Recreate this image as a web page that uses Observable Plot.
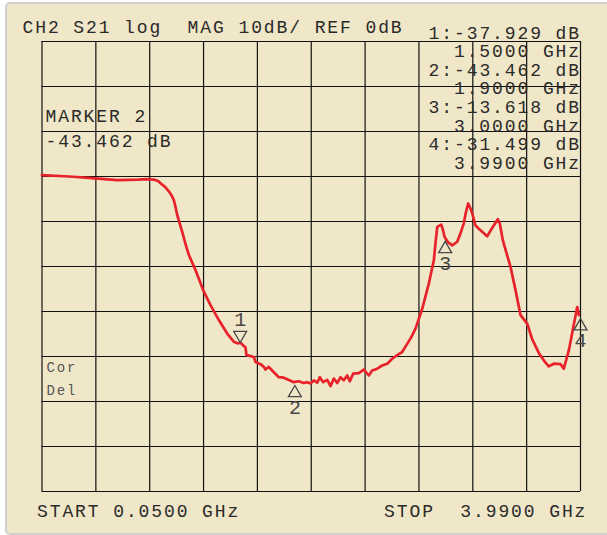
<!DOCTYPE html>
<html><head><meta charset="utf-8">
<script src="https://cdn.jsdelivr.net/npm/d3@7"></script>
<script src="https://cdn.jsdelivr.net/npm/@observablehq/plot@0.6"></script>
<style>
html,body{margin:0;padding:0;background:#fff;width:607px;height:535px;overflow:hidden}
#panel{position:absolute;left:5px;top:2px;width:612px;height:529px;background:#F0E7C8;border:2px solid #cfcfcf;border-radius:5px;box-sizing:content-box}
#chart{position:absolute;left:0;top:0}
#chart svg text{letter-spacing:1.9px}
</style></head><body><div id="panel"></div><div id="chart"></div>
<script>
// ---- data ----
const startGHz = 0.05, stopGHz = 3.99;
const dbPerDiv = 10, topDb = 30, bottomDb = -70;
const headerText = "CH2 S21 log  MAG 10dB/ REF 0dB";
const statusText = ["Cor", "Del"];
const activeMarker = 2;

const freqGHz = [0.05,0.25,0.44,0.60,0.75,0.82,0.868,0.90,0.917,0.95,0.978,1.000,1.014,1.025,1.039,1.076,1.10,1.124,1.173,1.234,1.283,1.344,1.405,1.453,1.483,1.50,1.525,1.539,1.546,1.563,1.600,1.612,1.649,1.673,1.685,1.709,1.746,1.783,1.819,1.856,1.892,1.929,1.965,1.990,2.015,2.039,2.064,2.083,2.107,2.137,2.161,2.185,2.210,2.234,2.258,2.283,2.302,2.327,2.368,2.404,2.441,2.466,2.503,2.539,2.576,2.612,2.649,2.685,2.722,2.750,2.783,2.832,2.880,2.900,2.917,2.930,2.942,2.971,2.985,2.995,3.020,3.051,3.088,3.110,3.136,3.152,3.168,3.185,3.198,3.220,3.246,3.307,3.340,3.385,3.400,3.422,3.478,3.515,3.551,3.600,3.637,3.685,3.730,3.758,3.795,3.844,3.868,3.905,3.966,3.978];
const s21Db = [0.3,0.0,-0.4,-0.8,-0.7,-0.6,-0.7,-1.0,-1.5,-2.3,-3.3,-4.3,-5.2,-6.5,-8.5,-12.3,-15.0,-17.4,-20.8,-25.6,-28.6,-31.9,-34.9,-36.7,-37.1,-36.9,-37.6,-38.0,-39.7,-39.8,-40.1,-41.2,-41.7,-42.3,-42.9,-42.3,-43.5,-44.6,-44.7,-45.2,-45.7,-45.5,-45.9,-45.7,-46.0,-45.3,-45.8,-44.6,-45.7,-45.2,-46.6,-44.9,-45.9,-44.6,-45.3,-44.2,-45.5,-43.8,-43.7,-42.9,-44.2,-43.1,-42.7,-42.0,-41.6,-40.5,-39.7,-39.0,-37.2,-35.8,-33.8,-29.4,-23.8,-21.0,-18.6,-14.5,-11.2,-10.7,-12.0,-13.4,-14.6,-15.3,-14.5,-12.8,-10.4,-7.9,-6.0,-7.1,-8.2,-10.8,-11.6,-13.3,-11.6,-9.5,-10.5,-14.2,-20.1,-25.3,-30.8,-32.7,-36.2,-39.2,-41.2,-42.2,-41.6,-41.7,-42.7,-38.6,-29.0,-30.8];

const markerId = [1, 2, 3, 4];
const markerGHz = [1.5, 1.9, 3.0, 3.99];
const markerDb = [-37.929, -43.462, -13.618, -31.499];

// ---- derived ----
const trace = freqGHz.map((f, i) => ({f, db: s21Db[i]}));
const traceAt = d3.scaleLinear().domain(freqGHz).range(s21Db).clamp(true);
const markers = markerId.map((id, i) => ({id, f: markerGHz[i], level: traceAt(markerGHz[i])}));
const upMarkers = markers.filter(d => d.id !== 1);
const downMarkers = markers.filter(d => d.id === 1);
const xDiv = d3.range(11).map(i => startGHz + i * (stopGHz - startGHz) / 10);
const yDiv = d3.range(bottomDb, topDb + 1, dbPerDiv);
const legendText = markerId.flatMap((id, i) => [`${id}:${markerDb[i].toFixed(3)} dB`, `${markerGHz[i].toFixed(4)} GHz`]).join("\n");
const activeIdx = markerId.indexOf(activeMarker);
const activeText = `MARKER ${activeMarker}\n${markerDb[activeIdx].toFixed(3)} dB`;
const startText = `START ${startGHz.toFixed(4)} GHz`;
const stopText = `STOP  ${stopGHz.toFixed(4)} GHz`;

const font = "'Liberation Mono', 'DejaVu Sans Mono', monospace";
const ink = "#2a2a2a";
const mk = "#474747";

const chart = Plot.plot({
  width: 607, height: 535,
  marginLeft: 41.5, marginRight: 27, marginTop: 41, marginBottom: 44,
  style: {background: "transparent", fontFamily: font, overflow: "visible"},
  x: {type: "linear", domain: [startGHz, stopGHz], axis: null},
  y: {type: "linear", domain: [bottomDb, topDb], axis: null},
  marks: [
    Plot.ruleX(xDiv, {stroke: "#111", strokeWidth: 1.2}),
    Plot.ruleY(yDiv, {stroke: "#111", strokeWidth: 1.2}),
    Plot.line(trace, {x: "f", y: "db", stroke: "#E8222B", strokeWidth: 2.7, strokeLinejoin: "round", curve: "linear"}),
    Plot.text([headerText], {text: d => d, frameAnchor: "top-left", textAnchor: "start", lineAnchor: "bottom", dx: -19.5, dy: -8.5, fontSize: 18, fill: ink, fontFamily: font}),
    Plot.text([legendText], {text: d => d, frameAnchor: "top-right", textAnchor: "end", lineAnchor: "bottom", dx: 0.5, dy: 127, fontSize: 18, lineHeight: 1.028, fill: ink, fontFamily: font}),
    Plot.text([activeText], {text: d => d, frameAnchor: "top-left", textAnchor: "start", lineAnchor: "bottom", dx: 3.5, dy: 105.7, fontSize: 18, lineHeight: 1.389, fill: ink, fontFamily: font}),
    Plot.text([statusText.join("\n")], {text: d => d, frameAnchor: "top-left", textAnchor: "start", lineAnchor: "bottom", dx: 4.5, dy: 353, fontSize: 14, lineHeight: 1.59, fill: "#555", fontFamily: font}),
    Plot.text([startText], {text: d => d, frameAnchor: "bottom-left", textAnchor: "start", lineAnchor: "bottom", dx: -5, dy: 25.7, fontSize: 18, fill: ink, fontFamily: font}),
    Plot.text([stopText], {text: d => d, frameAnchor: "bottom-right", textAnchor: "end", lineAnchor: "bottom", dx: 6.8, dy: 25.7, fontSize: 18, fill: ink, fontFamily: font}),
    // marker symbols (open triangles) and their numbers
    Plot.dot(upMarkers, {x: "f", y: "level", symbol: "triangle", r: 4.8, dy: 11, fill: "none", stroke: mk, strokeWidth: 1.3}),
    Plot.text(upMarkers, {x: "f", y: "level", text: d => `${d.id}`, lineAnchor: "bottom", dy: 32, dx: 1, fontSize: 20, fill: mk, fontFamily: font}),
    Plot.dot(downMarkers, {x: "f", y: "level", symbol: "triangle", rotate: 180, r: 4.8, dy: -7.5, fill: "none", stroke: mk, strokeWidth: 1.3}),
    Plot.text(downMarkers, {x: "f", y: "level", text: d => `${d.id}`, lineAnchor: "bottom", dy: -17, dx: 1, fontSize: 20, fill: mk, fontFamily: font})
  ]
});
document.getElementById("chart").appendChild(chart);
</script></body></html>
